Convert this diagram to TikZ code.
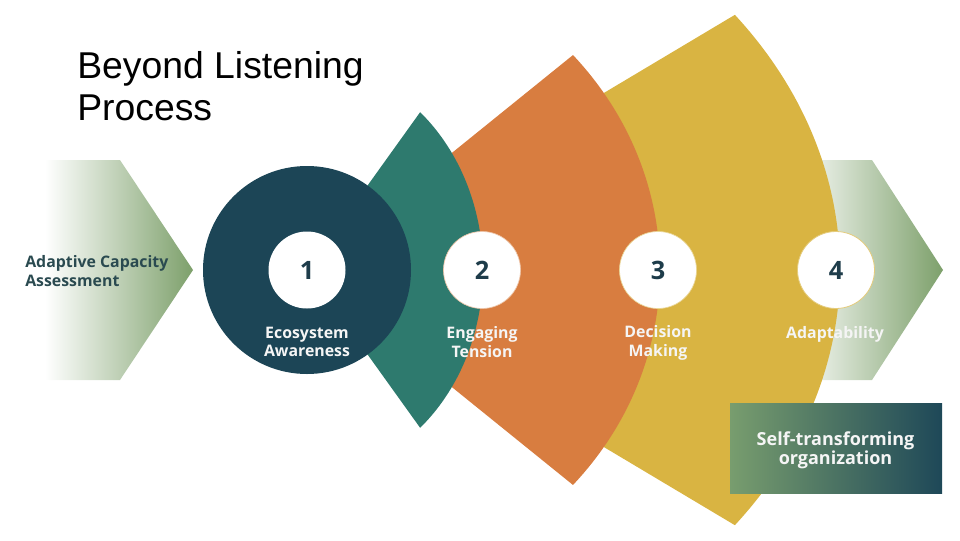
\documentclass[tikz,border=0pt]{standalone}
\usepackage{fontspec}
\newfontfamily\osans{Open Sans}
\newfontfamily\arialf{Liberation Sans}
\definecolor{navyc}{HTML}{1C4556}
\definecolor{tealc}{HTML}{2E7A6E}
\definecolor{orangec}{HTML}{D87D40}
\definecolor{yellowc}{HTML}{D9B442}
\definecolor{sagec}{HTML}{7DA06B}
\definecolor{numc}{HTML}{1E3C4A}
\definecolor{labc}{HTML}{2A4A50}
\definecolor{boxl}{HTML}{789D6E}
\definecolor{boxr}{HTML}{1E4858}
\begin{document}
\begin{tikzpicture}[x=0.75pt,y=-0.75pt,
  numcirc/.style={circle, fill=white, minimum size=57.75pt, inner sep=0pt,
    text=numc, font=\osans\bfseries\fontsize{19}{22}\selectfont},
  lbl/.style={align=center, inner sep=0pt, text=white!96!black,
    font=\osans\bfseries\fontsize{11.9}{14}\selectfont}]
\useasboundingbox (0,0) rectangle (960,540);
\coordinate (apex) at (307,270);
% chevrons
\shade[left color=white, right color=sagec]
  (45,160) -- (120,160) -- (193,270) -- (120,380) -- (45,380) -- cycle;
\shade[left color=white, right color=sagec]
  (790,160) -- (872,160) -- (943,270) -- (872,380) -- (790,380) -- cycle;
% fan shapes
\fill[yellowc] (apex) -- ++(-36.6:533 and 428)
  arc[start angle=-36.6, end angle=36.6, x radius=533, y radius=428] -- cycle;
\fill[orangec] (apex) -- ++(-41.1:353 and 327)
  arc[start angle=-41.1, end angle=41.1, x radius=353, y radius=327] -- cycle;
\fill[tealc] (apex) -- ++(-50:176 and 206)
  arc[start angle=-50, end angle=50, x radius=176, y radius=206] -- cycle;
% main circle
\node[circle, fill=navyc, minimum size=156pt, inner sep=0pt] (eco) at (apex) {};
% number circles
\node[numcirc] (n1) at (307,270) {1};
\node[numcirc, draw=orangec!45, line width=0.5pt] (n2) at (482,270) {2};
\node[numcirc, draw=yellowc!55, line width=0.5pt] (n3) at (658,270) {3};
\node[numcirc, draw=yellowc!70, line width=0.6pt] (n4) at (836,270) {4};
% labels
\node[lbl] (l1) at (307,342) {Ecosystem\\Awareness};
\node[lbl] (l2) at (482,342) {Engaging\\Tension};
\node[lbl] (l3) at (658,343) {Decision\\Making};
\node[lbl, anchor=base] (l4) at (835,338.5) {Adaptability};
\node[anchor=west, inner sep=0pt, align=left, text=labc,
  font=\osans\bfseries\fontsize{11.9}{14}\selectfont] (acap) at (25,271) {Adaptive Capacity\\Assessment};
% box
\node[left color=boxl, right color=boxr, minimum width=159pt, minimum height=67.5pt,
  inner sep=0pt] (selfbox) at (836,448) {};
\node[align=center, inner sep=0pt, text=white!96!black,
  font=\osans\bfseries\fontsize{13.5}{14}\selectfont] (self) at (835.5,450.5) {Self-transforming\\organization};
% title
\node[anchor=west, inner sep=0pt, align=left,
  font=\arialf\fontsize{28}{32}\selectfont] (title) at (77,86) {Beyond Listening\\Process};
\end{tikzpicture}
\end{document}
